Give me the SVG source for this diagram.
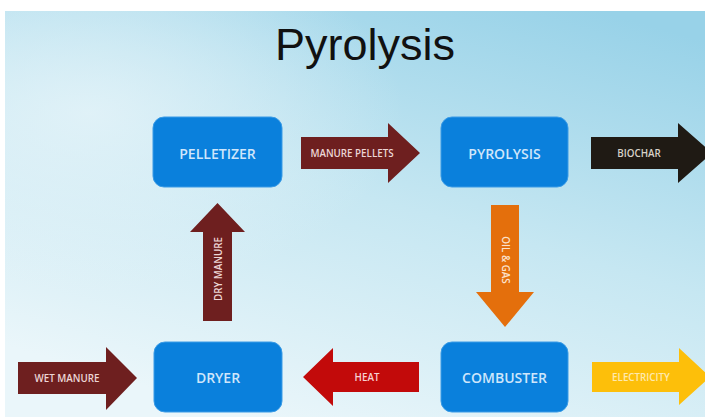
<svg xmlns="http://www.w3.org/2000/svg" width="705" height="417" viewBox="0 0 705 417">
<defs>
<linearGradient id="bg" x1="0.85" y1="0" x2="0.35" y2="1">
<stop offset="0" stop-color="#98d2e8"/>
<stop offset="0.5" stop-color="#c6e7f2"/>
<stop offset="1" stop-color="#eaf6fa"/>
</linearGradient>
<radialGradient id="glow" cx="0.12" cy="0.25" r="0.45">
<stop offset="0" stop-color="#e6f4f9" stop-opacity="0.8"/>
<stop offset="1" stop-color="#e6f4f9" stop-opacity="0"/>
</radialGradient>
<style>
.box{fill:#0a80dc;stroke:#3a9be6;stroke-width:1}
.bt{font-family:"Open Sans","Noto Sans",sans-serif;font-size:14px;font-weight:600;fill:#cfe6fb;text-anchor:middle;dominant-baseline:central}
.at{font-family:"Open Sans","Noto Sans",sans-serif;font-size:9.8px;font-weight:600;text-anchor:middle;dominant-baseline:central}
.red{fill:#6e1f1f}
.lt{fill:#ecd6d6}
</style>
</defs>
<rect x="0" y="0" width="705" height="417" fill="#ffffff"/>
<rect x="5" y="11" width="700" height="406" fill="url(#bg)"/>
<rect x="5" y="11" width="700" height="406" fill="url(#glow)"/>
<text x="365" y="60" font-family="Liberation Sans, Arial, sans-serif" font-size="45" fill="#111111" text-anchor="middle">Pyrolysis</text>

<g id="connectors">
<g id="manure-pellets">
<path class="red" d="M301,137 H388 V123 L420,153 L388,183 V169 H301 Z"/>
<text class="at lt" x="352" y="153">MANURE PELLETS</text>
</g>
<g id="biochar">
<path fill="#1f1a14" d="M591,137 H678 V123 L712,153 L678,183 V169 H591 Z"/>
<text class="at" fill="#d8d2c8" x="639" y="153">BIOCHAR</text>
</g>
<g id="dry-manure">
<path class="red" d="M203,321 V232 H190 L217.5,203 L245,232 H232 V321 Z"/>
<text class="at lt" transform="translate(218,269) rotate(-90)">DRY MANURE</text>
</g>
<g id="oil-gas">
<path fill="#e46f0c" d="M491,205 H519 V292 H534 L505,327 L476,292 H491 Z"/>
<text class="at" fill="#fbe2cc" transform="translate(505,260) rotate(90)">OIL &amp; GAS</text>
</g>
<g id="wet-manure">
<path class="red" d="M18,362 H106 V347 L137,378 L106,410 V394 H18 Z"/>
<text class="at lt" x="67" y="378">WET MANURE</text>
</g>
<g id="heat">
<path fill="#c20a0a" d="M419,362 H333 V348 L303,377 L333,406 V392 H419 Z"/>
<text class="at" fill="#f6d2d2" x="367" y="377">HEAT</text>
</g>
<g id="electricity">
<path fill="#fdbf0a" d="M592,362 H679 V348 L710,377 L679,405 V392 H592 Z"/>
<text class="at" fill="#fde9b0" x="641" y="377">ELECTRICITY</text>
</g>
</g>

<g id="pelletizer">
<rect class="box" x="153" y="117" width="129" height="70" rx="11"/>
<text class="bt" x="217.5" y="153">PELLETIZER</text>
</g>
<g id="pyrolysis">
<rect class="box" x="441" y="117" width="127" height="70" rx="11"/>
<text class="bt" x="504.5" y="153">PYROLYSIS</text>
</g>
<g id="dryer">
<rect class="box" x="154" y="342" width="128" height="70" rx="11"/>
<text class="bt" x="218" y="377">DRYER</text>
</g>
<g id="combuster">
<rect class="box" x="441" y="342" width="127" height="70" rx="11"/>
<text class="bt" x="504.5" y="377">COMBUSTER</text>
</g>
</svg>
